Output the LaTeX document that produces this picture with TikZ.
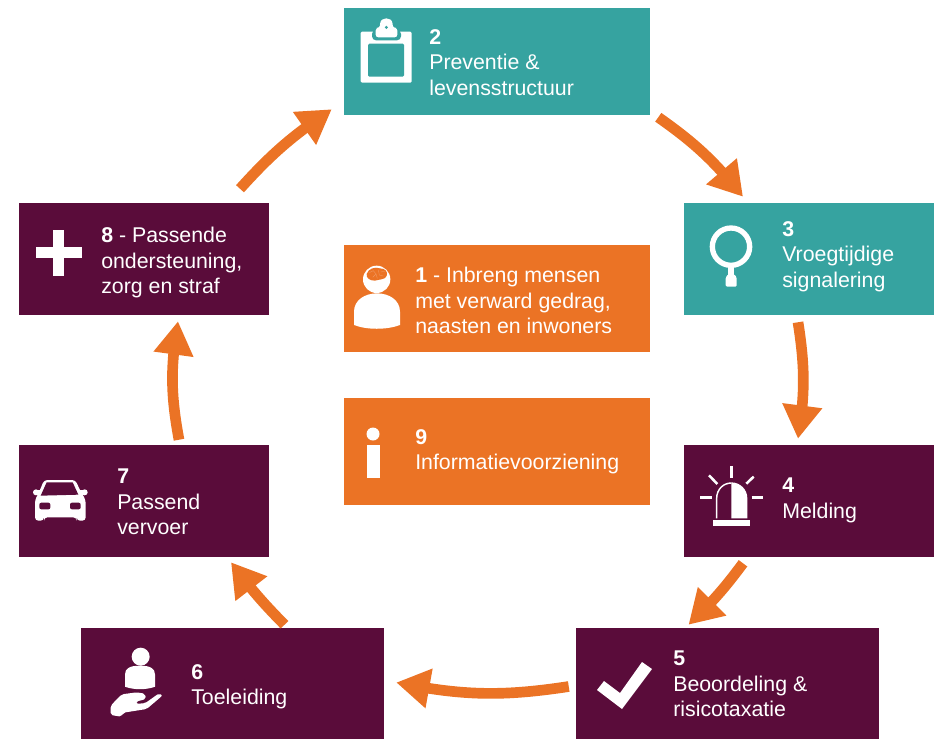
\documentclass[tikz,border=0pt]{standalone}
\usepackage{fontspec}
\setmainfont{Liberation Sans}
\usetikzlibrary{arrows.meta,bending}
\definecolor{teal1}{HTML}{36A3A0}
\definecolor{plum1}{HTML}{5A0C3A}
\definecolor{orange1}{HTML}{EB7325}
\tikzset{
  boxt/.style={fill=teal1},
  boxp/.style={fill=plum1},
  boxo/.style={fill=orange1},
  lbl/.style={anchor=north west,inner sep=0pt,align=left,text=white,font=\fontsize{16}{19.1}\selectfont},
  arr/.style={draw=orange1,line width=8pt,-{Triangle[length=25pt,width=28.5pt,flex=1]}},
  icon/.style={x=0.25pt,y=-0.25pt},
  ray/.style={draw=white,line width=1.9pt},
}
\newcommand{\bx}[6]{\node[inner sep=0pt,minimum width=#4*0.75pt,minimum height=#5*0.75pt,#6] (#1) at (#2,#3) {};}
\begin{document}
\begin{tikzpicture}[x=0.75pt,y=-0.75pt]
\useasboundingbox (0,0) rectangle (937,739);
% boxes
\bx{n2}{497}{61.5}{306}{107}{boxt}
\bx{n3}{809}{259}{250}{112}{boxt}
\bx{n4}{809}{501}{250}{112}{boxp}
\bx{n5}{727.5}{683.5}{303}{111}{boxp}
\bx{n6}{232.5}{683.5}{303}{111}{boxp}
\bx{n7}{144}{501}{250}{112}{boxp}
\bx{n8}{144}{259}{250}{112}{boxp}
\bx{n1}{497}{298.5}{306}{107}{boxo}
\bx{n9}{497}{451.5}{306}{107}{boxo}
% labels
\node[lbl] (t2) at (429,29) {\textbf{2}\\Preventie \&\\levensstructuur};
\node[lbl] (t3) at (782,221) {\textbf{3}\\Vroegtijdige\\signalering};
\node[lbl] (t4) at (782,478) {\textbf{4}\\Melding};
\node[lbl] (t5) at (673,651) {\textbf{5}\\Beoordeling \&\\risicotaxatie};
\node[lbl] (t6) at (191,664) {\textbf{6}\\Toeleiding};
\node[lbl] (t7) at (117,469) {\textbf{7}\\Passend\\vervoer};
\node[lbl] (t8) at (101,227) {\textbf{8} - Passende\\ondersteuning,\\zorg en straf};
\node[lbl] (t1) at (415,267) {\textbf{1} - Inbreng mensen\\met verward gedrag,\\naasten en inwoners};
\node[lbl] (t9) at (415,429) {\textbf{9}\\Informatievoorziening};
% arrows
\draw[arr] ([shift={(8,2)}]n2.south east) to[bend left=8] ([shift={(-66,-6)}]n3.north);
\draw[arr] ([shift={(-11,7)}]n3.south) to[bend left=9] ([shift={(-11,-6)}]n4.north);
\draw[arr] ([shift={(-66,6)}]n4.south) to[bend left=5] ([shift={(-39,-3)}]n5.north);
\draw[arr] ([shift={(-7,3)}]n5.west) to[bend left=10] ([shift={(12,-1)}]n6.east);
\draw[arr] ([shift={(52,-3)}]n6.north) to[bend left=4] ([shift={(87,5)}]n7.south);
\draw[arr] ([shift={(35,-5)}]n7.north) to[bend left=10] ([shift={(34,6)}]n8.south);
\draw[arr] ([shift={(96,-14)}]n8.north) to[bend left=7] ([shift={(-12,-6)}]n2.south west);
% clipboard
\begin{scope}[shift={(344,0)},icon]
\fill[white,rounded corners=1pt] (50,95) rectangle (203,248);
\fill[teal1,rounded corners=1pt] (72,131) rectangle (180,230);
\fill[teal1,rounded corners=3pt] (84,90) rectangle (171,121);
\fill[white,rounded corners=2pt] (95,112) -- (95,84) -- (106,84) -- (108,78) .. controls (110,50) and (144,50) .. (146,78) -- (148,84) -- (160,84) -- (160,112) -- cycle;
\fill[teal1] (127,82) circle (5);
\end{scope}
% magnifier
\begin{scope}[shift={(684,200)},icon]
\draw[white,line width=4pt] (141,140) circle (56);
\fill[white] (133,198) rectangle (150,228);
\fill[white,rounded corners=1pt] (125,260) -- (125,232) -- (133,222) -- (150,222) -- (158,232) -- (158,260) -- cycle;
\end{scope}
% siren
\begin{scope}[shift={(684,450)},icon]
\fill[white] (87,210) rectangle (198,228);
\draw[white,line width=1.1pt] (98,205) -- (98,145) .. controls (98,118) and (118,99) .. (142,99);
\fill[white] (142,97) .. controls (168,97) and (190,118) .. (190,145) -- (190,205) -- (142,205) -- cycle;
\draw[ray] (142,48) -- (142,84);
\draw[ray] (75,76) -- (100,102);
\draw[ray] (209,80) -- (187,101);
\draw[ray] (48,143) -- (84,143);
\draw[ray] (203,143) -- (238,143);
\end{scope}
% check
\fill[white] (597,690) -- (604,681) -- (620,693) -- (642,662) -- (652,669) -- (622,709) -- cycle;
% hand and person
\begin{scope}[shift={(90,635)},icon]
\fill[white] (152,65) circle (27);
\fill[white] (105,155) -- (105,118) .. controls (105,100) and (120,92) .. (150,92) .. controls (180,92) and (195,100) .. (195,118) -- (195,155) .. controls (170,165) and (130,165) .. (105,155) -- cycle;
\fill[white,rounded corners=1.5pt] (62,212) -- (95,178) -- (140,172) -- (165,176) -- (168,192) -- (138,200) -- (138,206) -- (165,205) -- (207,175) -- (218,181) -- (170,222) -- (100,233) -- (94,245) -- (62,240) -- cycle;
\end{scope}
% car
\begin{scope}[shift={(20,460)},icon]
\fill[white] (48,97) circle (9);
\fill[white] (194,97) circle (9);
\fill[white] (48,90) rectangle (70,104);
\fill[white] (172,90) rectangle (194,104);
\fill[white,rounded corners=2.5pt] (45,182) -- (45,120) -- (60,90) -- (72,60) -- (166,60) -- (180,90) -- (197,120) -- (197,182) -- (170,182) -- (170,172) -- (72,172) -- (72,182) -- cycle;
\fill[plum1] (80,67) -- (158,67) -- (175,104) -- (62,107) -- cycle;
\fill[plum1,rounded corners=1.5pt] (58,128) rectangle (91,148);
\fill[plum1,rounded corners=1.5pt] (150,128) rectangle (182,148);
\end{scope}
% plus
\fill[white] (36,247) rectangle (82,258);
\fill[white] (53,230) rectangle (64,276);
% person with brain
\begin{scope}[shift={(340,250)},icon]
\fill[white] (110,88) circle (41);
\fill[white] (42,225) -- (42,185) .. controls (42,150) and (75,130) .. (111,130) .. controls (147,130) and (180,150) .. (180,185) -- (180,225) .. controls (140,240) and (80,240) .. (42,225) -- cycle;
\fill[orange1] (80,72) .. controls (85,55) and (105,50) .. (120,55) .. controls (135,55) and (145,65) .. (140,78) .. controls (135,90) and (115,88) .. (105,92) .. controls (90,92) and (78,85) .. (80,72) -- cycle;
\draw[white!25!orange1,line width=0.3pt] (88,68) -- (100,62) -- (108,72) -- (98,82) (115,60) -- (118,75) -- (130,78) (122,66) -- (134,64) (108,72) -- (112,85);
\end{scope}
% info
\fill[white] (373,434) circle (6.5);
\fill[white] (367,445) rectangle (380,478);
\end{tikzpicture}
\end{document}
